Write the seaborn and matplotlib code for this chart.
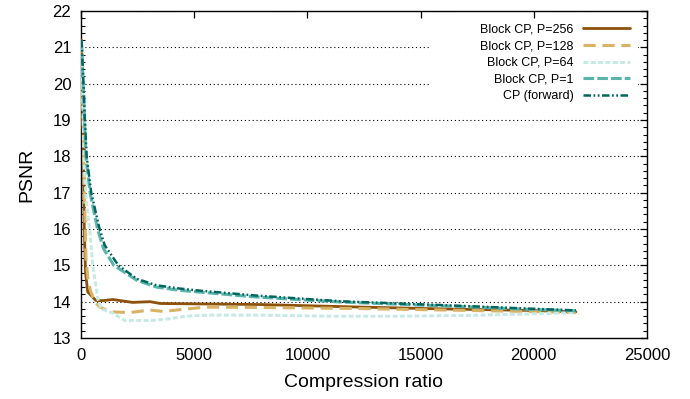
import numpy as np
import pandas as pd
import matplotlib
matplotlib.use("Agg")
import matplotlib.pyplot as plt
import seaborn as sns
from matplotlib.ticker import MultipleLocator
from matplotlib.patches import Rectangle

# ---- data ----
ratio_256 = [20, 50, 100, 145, 200, 296, 660, 1000, 1400, 2280, 3050, 3490, 5000, 8000, 12400, 16000, 19700, 21860]
psnr_256 = [21.2, 20.5, 18.5, 16.0, 14.8, 14.27, 14.03, 14.03, 14.06, 13.98, 14.0, 13.95, 13.94, 13.92, 13.85, 13.80, 13.76, 13.72]

ratio_128 = [20, 80, 150, 220, 300, 420, 600, 820, 1280, 2160, 3050, 3640, 4370, 5500, 8000, 12400, 16000, 19700, 21860]
psnr_128 = [21.2, 19.5, 17.0, 15.2, 14.65, 14.3, 14.0, 13.86, 13.72, 13.70, 13.77, 13.73, 13.78, 13.85, 13.84, 13.81, 13.77, 13.73, 13.70]

ratio_64 = [20, 80, 146, 250, 380, 520, 640, 760, 900, 1420, 1940, 3050, 3930, 4600, 5600, 8000, 11000, 14000, 17000, 19700, 21860]
psnr_64 = [21.2, 19.5, 17.66, 16.65, 16.0, 15.0, 14.5, 14.03, 13.8, 13.68, 13.48, 13.48, 13.53, 13.6, 13.63, 13.63, 13.6, 13.6, 13.62, 13.66, 13.70]

ratio_1 = [20, 95, 220, 400, 730, 1000, 1450, 2460, 3340, 4370, 5300, 7700, 9800, 11500, 14000, 17000, 19700, 21860]
psnr_1 = [21.2, 20.0, 18.0, 17.0, 16.0, 15.45, 15.0, 14.59, 14.40, 14.31, 14.26, 14.13, 14.05, 13.99, 13.93, 13.86, 13.79, 13.75]

ratio_cp = [20, 110, 170, 250, 450, 820, 1050, 1650, 2460, 3340, 4370, 5300, 7700, 9800, 11500, 14000, 17000, 19700, 21860]
psnr_cp = [21.2, 20.0, 19.0, 18.0, 17.0, 16.0, 15.55, 15.0, 14.63, 14.45, 14.36, 14.30, 14.17, 14.08, 14.01, 13.95, 13.88, 13.81, 13.76]

labels = ["Block CP, P=256", "Block CP, P=128", "Block CP, P=64", "Block CP, P=1", "CP (forward)"]
colors = ["#8c510a", "#d8b365", "#c7eae5", "#5ab4ac", "#01665e"]

xticks = [0, 5000, 10000, 15000, 20000, 25000]
yticks = [13, 14, 15, 16, 17, 18, 19, 20, 21, 22]

series = [(ratio_256, psnr_256), (ratio_128, psnr_128), (ratio_64, psnr_64),
          (ratio_1, psnr_1), (ratio_cp, psnr_cp)]
styles = ["-", (0, (4, 2.2)), (0, (1.6, 0.8)), (0, (3.5, 1.0)), (0, (3, 1, 0.7, 1, 0.7, 1))]
widths = [2.0, 2.2, 2.2, 2.2, 1.8]

sns.set_theme(style="white")
plt.rcParams["font.family"] = ["Liberation Sans", "DejaVu Sans"]

fig = plt.figure(figsize=(6.9, 3.99), dpi=100)
ax = fig.add_axes([81 / 690, 1 - 338 / 399, 566 / 690, 327 / 399])

for (xs, ys), lab, col, ls, lw in zip(series, labels, colors, styles, widths):
    df = pd.DataFrame({"ratio": xs, "psnr": ys})
    sns.lineplot(data=df, x="ratio", y="psnr", ax=ax, color=col, linestyle=ls,
                 linewidth=lw, label=lab, zorder=3)

ax.set_xlim(0, 25000)
ax.set_ylim(13, 22)
ax.set_xticks(xticks)
ax.set_yticks(yticks)
ax.set_xticklabels([str(t) for t in xticks])
ax.set_yticklabels([str(t) for t in yticks])
ax.yaxis.set_minor_locator(MultipleLocator(0.2))

ax.tick_params(which="major", direction="in", length=5, width=0.9, colors="black",
               labelsize=12, top=True, right=True, pad=7)
ax.tick_params(which="minor", direction="in", length=3, width=0.8, colors="black",
               top=False, right=True, left=True, bottom=False)
for s in ax.spines.values():
    s.set_visible(True)
    s.set_color("black")
    s.set_linewidth(1.0)

ax.set_axisbelow(True)
ax.yaxis.grid(True, which="major", linestyle=(0, (1, 2.5)), color="black", linewidth=0.8)
ax.xaxis.grid(False)

# opaque key area
ax.add_patch(Rectangle((0.617, 0.713), 0.367, 0.262, transform=ax.transAxes,
                       facecolor="white", edgecolor="none", zorder=1))

ax.set_xlabel("Compression ratio", fontsize=14, labelpad=8, color="black")
ax.set_ylabel("PSNR", fontsize=14, labelpad=12, color="black")

handles, labs = ax.get_legend_handles_labels()
leg = ax.legend(handles, labs, loc="upper right", bbox_to_anchor=(0.970, 0.962),
                frameon=False, fontsize=9, markerfirst=False, handlelength=3.8,
                handletextpad=0.7, labelspacing=0.38, borderpad=0, borderaxespad=0)
for t in leg.get_texts():
    t.set_color("black")

fig.savefig("out.png", dpi=100)
